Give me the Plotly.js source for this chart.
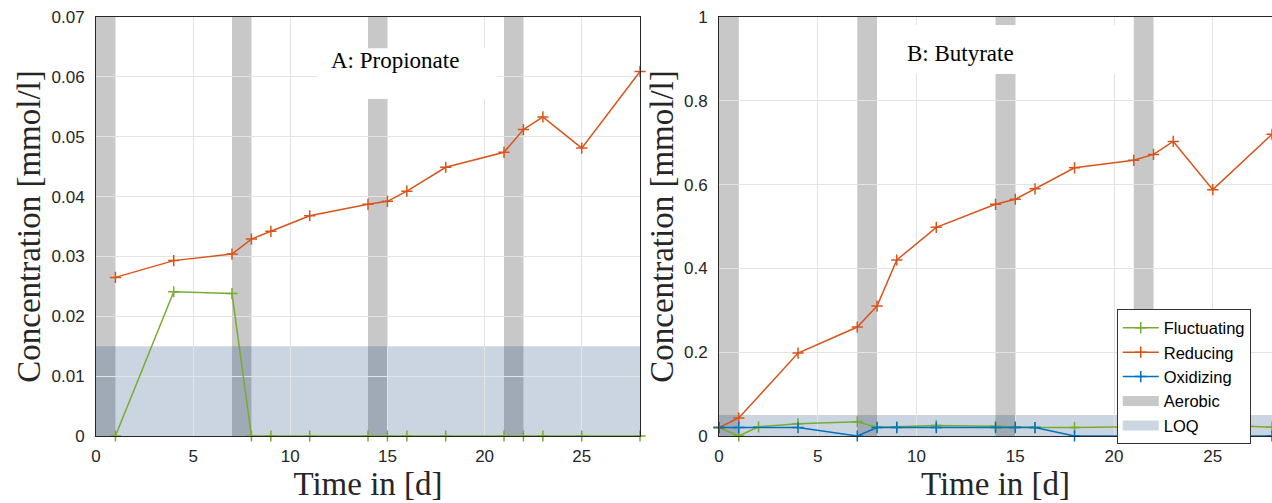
<!DOCTYPE html>
<html><head><meta charset="utf-8">
<script src="https://cdn.plot.ly/plotly-3.0.1.min.js"></script>
<style>html,body{margin:0;padding:0;background:#fff}#chart{width:1272px;height:503px}</style>
</head><body><div id="chart"></div>
<script>
// ---- Data ----
// Panel A: Propionate
const propDays = [1, 4, 7, 8, 9, 11, 14, 15, 16, 18, 21, 22, 23, 25, 28];
const propReducing = [0.0265, 0.0293, 0.0304, 0.0329, 0.0342, 0.0368, 0.0387, 0.0392, 0.0409, 0.0449, 0.0474, 0.0512, 0.0533, 0.0481, 0.0609];
const propFluctuating = [0, 0.0241, 0.0238, 0, 0, 0, 0, 0, 0, 0, 0, 0, 0, 0, 0];

// Panel B: Butyrate
const butRedDays = [0, 1, 4, 7, 8, 9, 11, 14, 15, 16, 18, 21, 22, 23, 25, 28];
const butReducing = [0.02, 0.043, 0.198, 0.26, 0.31, 0.42, 0.498, 0.553, 0.565, 0.59, 0.64, 0.658, 0.672, 0.703, 0.588, 0.72];
const butFluDays = [0, 1, 2, 4, 7, 8, 9, 11, 14, 15, 16, 18, 21, 22, 23, 25, 28];
const butFluctuating = [0.02, 0, 0.022, 0.029, 0.034, 0.021, 0.022, 0.025, 0.023, 0.022, 0.02, 0.02, 0.022, 0.02, 0.022, 0.027, 0.021];
const butOxDays = [0, 1, 4, 7, 8, 9, 11, 14, 15, 16, 18, 21, 22, 23, 25, 28];
const butOxidizing = [0.02, 0.02, 0.02, 0, 0.02, 0.02, 0.02, 0.02, 0.02, 0.02, 0, 0, 0, 0.025, 0, 0];

// Aerobic phases [start, end] in days
const aerobicStart = [0, 7, 14, 21];
const aerobicEnd = [1, 8, 15, 22];
// Limit of quantification
const loqProp = 0.015;
const loqBut = 0.05;

const seriesNames = ['Fluctuating', 'Reducing', 'Oxidizing', 'Aerobic', 'LOQ'];
const panelTitles = ['A: Propionate', 'B: Butyrate'];

// ---- Styles ----
const cGreen = '#77AC30', cOrange = '#D95319', cBlue = '#0072BD';
const cAerobic = 'rgb(200,200,200)';
const cLoq = 'rgba(20,66,118,0.22)';
const serif = 'Liberation Serif, Times New Roman, serif';
const sans = 'Liberation Sans, Arial, sans-serif';

function line(x, y, name, color, xa, ya, show) {
  return {
    x: x, y: y, name: name, type: 'scatter', mode: 'lines+markers',
    xaxis: xa, yaxis: ya, showlegend: show, cliponaxis: false,
    line: {color: color, width: 1.5},
    marker: {symbol: 'cross-thin', size: 8, color: color, line: {color: color, width: 1.5}}
  };
}

const traces = [
  line(propDays, propReducing, seriesNames[1], cOrange, 'x', 'y', false),
  line(propDays, propFluctuating, seriesNames[0], cGreen, 'x', 'y', false),
  line(butFluDays, butFluctuating, seriesNames[0], cGreen, 'x2', 'y2', true),
  line(butRedDays, butReducing, seriesNames[1], cOrange, 'x2', 'y2', true),
  line(butOxDays, butOxidizing, seriesNames[2], cBlue, 'x2', 'y2', true),
  {x: [null], y: [null], name: seriesNames[3], type: 'scatter', mode: 'lines', xaxis: 'x2', yaxis: 'y2',
   line: {color: cAerobic, width: 15}, showlegend: true},
  {x: [null], y: [null], name: seriesNames[4], type: 'scatter', mode: 'lines', xaxis: 'x2', yaxis: 'y2',
   line: {color: 'rgb(203,214,225)', width: 15}, showlegend: true}
];

const shapes = [];
[['x', 'y', loqProp], ['x2', 'y2', loqBut]].forEach(([xa, ya, loq]) => {
  aerobicStart.forEach((s, i) => {
    shapes.push({type: 'rect', xref: xa, yref: ya + ' domain', x0: s, x1: aerobicEnd[i], y0: 0, y1: 1,
      fillcolor: cAerobic, line: {width: 0}, layer: 'below'});
  });
  shapes.push({type: 'rect', xref: xa + ' domain', yref: ya, x0: 0, x1: 1, y0: 0, y1: loq,
    fillcolor: cLoq, line: {width: 0}, layer: 'below'});
});
// white label boxes
shapes.push({type: 'rect', xref: 'x', yref: 'y', x0: 11.37, x1: 20.64, y0: 0.0563, y1: 0.0648,
  fillcolor: '#ffffff', line: {width: 0}, layer: 'above'});
shapes.push({type: 'rect', xref: 'x2', yref: 'y2', x0: 8.25, x1: 20.7, y0: 0.864, y1: 0.981,
  fillcolor: '#ffffff', line: {width: 0}, layer: 'above'});

// main axes: labels + grid; transparent outside ticks push labels away from the axis
const axMain = {
  showline: true, mirror: true, linecolor: '#262626', linewidth: 1,
  ticks: 'outside', tickcolor: 'rgba(0,0,0,0)',
  showgrid: true, gridcolor: '#e3e3e3', gridwidth: 1, zeroline: false,
  tickfont: {family: sans, size: 17, color: '#262626'}
};
// overlay axes: inside tick marks only (on both sides)
const axTicks = {
  showline: true, mirror: 'ticks', linecolor: '#262626', linewidth: 1,
  ticks: 'inside', ticklen: 5, tickcolor: '#262626',
  showgrid: false, zeroline: false, showticklabels: false
};
const xTitle = {text: 'Time in [d]', font: {family: serif, size: 33, color: '#262626'}, standoff: 0};
const yTitle = {text: 'Concentration [mmol/l]', font: {family: serif, size: 33, color: '#262626'}, standoff: 0};

const xDomA = [0, 0.4626], xDomB = [0.5298, 1];

const layout = {
  width: 1272, height: 503,
  margin: {l: 96, r: 0, t: 17, b: 67},
  paper_bgcolor: '#ffffff', plot_bgcolor: '#ffffff',
  showlegend: true,
  legend: {x: 0.868, y: 0.302, xanchor: 'left', yanchor: 'top', bgcolor: '#ffffff',
    bordercolor: '#333333', borderwidth: 1, font: {family: sans, size: 16.5, color: '#000'},
    tracegroupgap: 0, itemwidth: 36},
  xaxis: Object.assign({}, axMain, {domain: xDomA, range: [0, 28], dtick: 5, ticklen: 5, title: xTitle, anchor: 'y'}),
  yaxis: Object.assign({}, axMain, {range: [0, 0.07], dtick: 0.01, ticklen: 7, title: yTitle, anchor: 'x'}),
  xaxis2: Object.assign({}, axMain, {domain: xDomB, range: [0, 28], dtick: 5, ticklen: 5, title: xTitle, anchor: 'y2'}),
  yaxis2: Object.assign({}, axMain, {range: [0, 1], dtick: 0.2, ticklen: 7, title: yTitle, anchor: 'x2'}),
  xaxis3: Object.assign({}, axTicks, {domain: xDomA, range: [0, 28], dtick: 5, overlaying: 'x', anchor: 'y'}),
  yaxis3: Object.assign({}, axTicks, {range: [0, 0.07], dtick: 0.01, overlaying: 'y', anchor: 'x'}),
  xaxis4: Object.assign({}, axTicks, {domain: xDomB, range: [0, 28], dtick: 5, overlaying: 'x2', anchor: 'y2'}),
  yaxis4: Object.assign({}, axTicks, {range: [0, 1], dtick: 0.2, overlaying: 'y2', anchor: 'x2'}),
  shapes: shapes,
  annotations: [
    {xref: 'x', yref: 'y', x: 15.39, y: 0.0627, text: panelTitles[0], showarrow: false,
     font: {family: serif, size: 23, color: '#000'}},
    {xref: 'x2', yref: 'y2', x: 12.25, y: 0.914, text: panelTitles[1], showarrow: false,
     font: {family: serif, size: 23, color: '#000'}}
  ]
};

Plotly.newPlot('chart', traces, layout, {displayModeBar: false, staticPlot: true});
</script></body></html>
